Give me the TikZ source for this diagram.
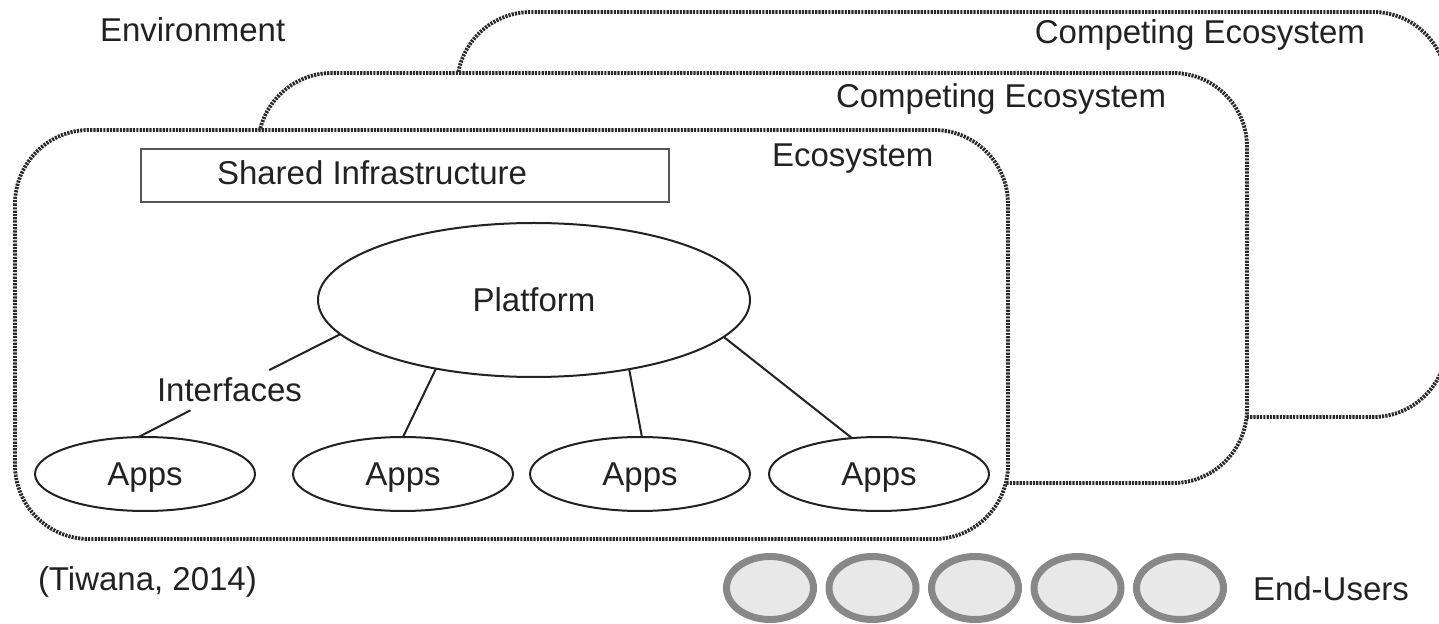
\documentclass[tikz,border=0pt]{standalone}
\usepackage{fontspec}
\setmainfont{Liberation Sans}
\usetikzlibrary{shapes.geometric}
\definecolor{ink}{HTML}{222222}
\definecolor{ecoline}{HTML}{2A2A2A}
\definecolor{boxline}{HTML}{555555}
\definecolor{userline}{HTML}{888888}
\definecolor{userfill}{HTML}{E8E8E8}
\begin{document}
\begin{tikzpicture}[x=0.5pt,y=-0.5pt,
  eco/.style={draw=ecoline, line width=1.9pt, dash pattern=on 1.1pt off 0.55pt, rounded corners=37pt, fill=white},
  lbl/.style={inner sep=0pt, outer sep=0pt, anchor=base west, text=ink, font=\fontsize{16.5}{20}\selectfont},
  oval/.style={ellipse, draw=ink, line width=1pt, fill=white, inner sep=0pt, outer sep=0pt, text depth=0pt, text=ink, font=\fontsize{16.5}{20}\selectfont},
  user/.style={ellipse, draw=userline, line width=3.5pt, fill=userfill, inner sep=0pt, outer sep=0pt, minimum width=43.5pt, minimum height=31.5pt},
  link/.style={draw=ink, line width=1pt},
  infra/.style={draw=boxline, line width=1pt, fill=white}]
\fill[white] (0,0) rectangle (1439,624);
\clip (0,0) rectangle (1439,624);
% ecosystems, back to front
\draw[eco] (457,12) rectangle (1447,417);
\draw[eco] (258,73) rectangle (1247,483);
\draw[eco] (15,130) rectangle (1008,539);
% labels
\node[lbl] (env) at (100,42) {Environment};
\node[lbl, anchor=base east] (comp1) at (1365,44) {Competing Ecosystem};
\node[lbl] (comp2) at (836,108) {Competing Ecosystem};
\node[lbl] (ecolbl) at (772,167) {Ecosystem};
% shared infrastructure
\draw[infra] (141,149) rectangle (669,202);
\node[lbl] (shared) at (217,185) {Shared Infrastructure};
% platform and apps
\node[oval, minimum width=216pt, minimum height=77pt] (platform) at (534,300) {Platform};
\node[oval, minimum width=110pt, minimum height=37pt] (app1) at (145,474) {Apps};
\node[oval, minimum width=110pt, minimum height=37pt] (app2) at (403,474) {Apps};
\node[oval, minimum width=110pt, minimum height=37pt] (app3) at (640,474) {Apps};
\node[oval, minimum width=110pt, minimum height=37pt] (app4) at (879,474) {Apps};
\node[lbl, inner sep=4pt] (intf) at (149,402) {Interfaces};
\draw[link] (platform.190) -- (intf);
\draw[link] (intf) -- (app1.100);
\draw[link] (platform.215.8) -- (app2.north);
\draw[link] (platform.324.3) -- (app3.87);
\draw[link] (platform.349.8) -- (app4.127);
% end users
\node[user] (eu1) at (770,588) {};
\node[user] (eu2) at (872.5,588) {};
\node[user] (eu3) at (975,588) {};
\node[user] (eu4) at (1077.5,588) {};
\node[user] (eu5) at (1180,588) {};
\node[lbl] (endusers) at (1253,600) {End-Users};
\node[lbl] (cite) at (38,590) {(Tiwana, 2014)};
\end{tikzpicture}
\end{document}
